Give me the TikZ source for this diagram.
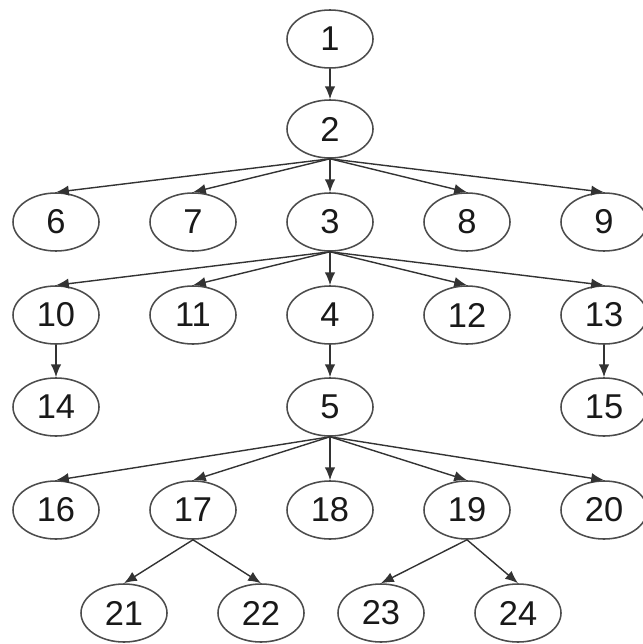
\documentclass[tikz,border=0pt]{standalone}
\usepackage{fontspec}
\setmainfont{Liberation Sans}
\usepackage{tikz}
\usetikzlibrary{arrows.meta,shapes.geometric}

\begin{document}
\begin{tikzpicture}[
  x=0.025cm, y=-0.025cm,
  vertex/.style={ellipse, draw=black!70, line width=1.1pt, fill=white, text=black!90, minimum width=2.15cm, minimum height=1.45cm, inner sep=0pt, font=\fontsize{24.5}{26}\selectfont},
  edge/.style={draw=black!80, line width=1.0pt, -{Latex[length=3.2mm,width=2.6mm]}},
]

\useasboundingbox (0,0) rectangle (643,644);

% five columns, seven levels (pixel grid of the figure)
\foreach \name/\x/\y in {1/330/39,2/330/129,
  6/56/222,7/193/222,3/330/222,8/467/222,9/604/222,
  10/56/315,11/193/315,4/330/315,12/467/315,13/604/315,
  14/56/407,5/330/407,15/604/407,
  16/56/510,17/193/510,18/330/510,19/467/510,20/604/510,
  21/124/613,22/261/613,23/381/613,24/518/613} {
  \node[vertex] (n\name) at (\x,\y) {\name};
}

% parent -> children
\foreach \p/\c in {1/2,2/6,2/7,2/3,2/8,2/9,
  3/10,3/11,3/4,3/12,3/13,10/14,4/5,13/15,
  5/16,5/17,5/18,5/19,5/20,17/21,17/22,19/23,19/24} {
  \draw[edge] (n\p.south) -- (n\c.north);
}

\end{tikzpicture}
\end{document}
